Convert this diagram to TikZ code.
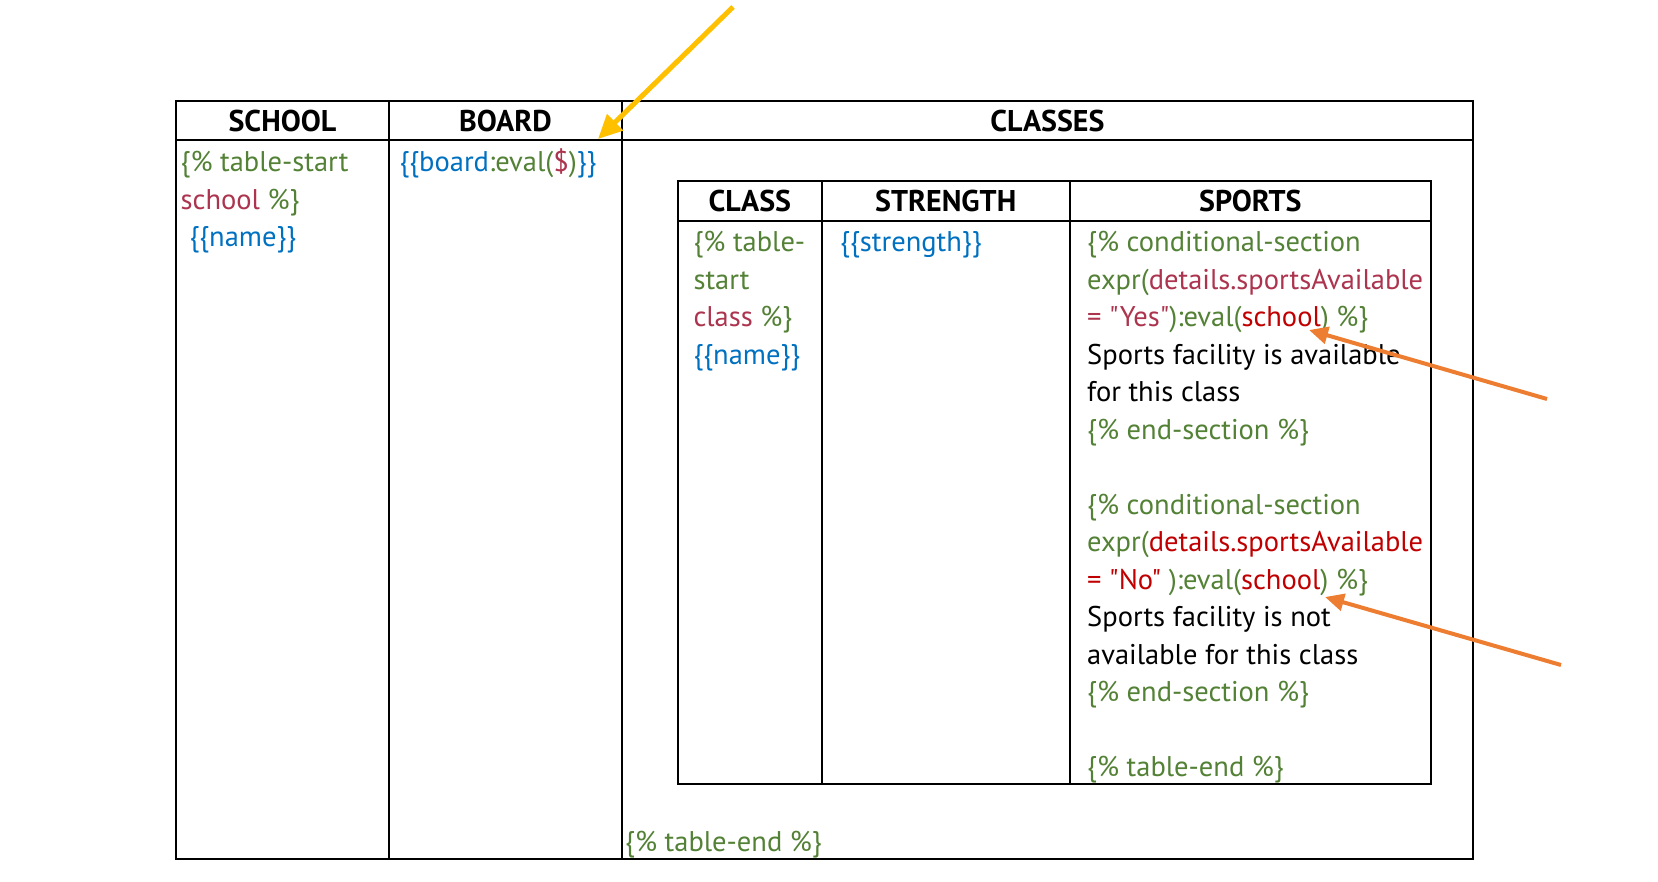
\documentclass[tikz,border=0pt]{standalone}
\usepackage{fontspec}
\setmainfont{PT Sans}[Ligatures=TeXOff]
\usetikzlibrary{arrows.meta}
\definecolor{cgreen}{RGB}{83,129,53}
\definecolor{ccrim}{RGB}{172,52,78}
\definecolor{cred}{RGB}{192,0,0}
\definecolor{cblue}{RGB}{0,112,192}
\definecolor{cyel}{RGB}{255,192,0}
\definecolor{corange}{RGB}{237,125,49}
\newcommand{\G}[1]{\textcolor{cgreen}{#1}}
\newcommand{\Cr}[1]{\textcolor{ccrim}{#1}}
\newcommand{\R}[1]{\textcolor{cred}{#1}}
\newcommand{\B}[1]{\textcolor{cblue}{#1}}
\newcommand{\dq}{\symbol{34}}
\begin{document}
\begin{tikzpicture}[x=1pt,y=-1pt,
  grid/.style={line width=2pt, black},
  hdr/.style={anchor=base, inner sep=0pt, font=\fontsize{30}{34}\selectfont\bfseries},
  txt/.style={anchor=base west, inner sep=0pt, font=\fontsize{28.5}{34}\selectfont},
  yarrow/.style={draw=cyel, line width=5pt, -{Triangle[length=24pt,width=22pt]}},
  oarrow/.style={draw=corange, line width=4pt, -{Triangle[length=19pt,width=17pt]}}]
\useasboundingbox (0,0) rectangle (1658,882);
% outer table
\draw[grid] (176,101) rectangle (1473,858.5);
\draw[grid] (176,140.5) -- (1473,140.5);
\draw[grid] (389,101) -- (389,858.5);
\draw[grid] (622,101) -- (622,858.5);
% inner table
\draw[grid] (678,180.6) rectangle (1431,783.5);
\draw[grid] (678,220.7) -- (1431,220.7);
\draw[grid] (821.6,180.6) -- (821.6,783.5);
\draw[grid] (1069.7,180.6) -- (1069.7,783.5);
% outer headers
\node[hdr] (hschool) at (282.5,131.7) {SCHOOL};
\node[hdr] (hboard) at (505.5,131.7) {BOARD};
\node[hdr] (hclasses) at (1047.5,131.7) {CLASSES};
% inner headers
\node[hdr] (hclass) at (749.8,211.7) {CLASS};
\node[hdr] (hstrength) at (945.7,211.7) {STRENGTH};
\node[hdr] (hsports) at (1250.3,211.7) {SPORTS};
% school column
\node[txt] (s1) at (180.5,171.7) {\G{\{\% table-start}};
\node[txt] (s2) at (180.5,209.2) {\Cr{school} \G{\%\}}};
\node[txt] (s3) at (189.3,246.7) {\B{\{\{name\}\}}};
% board column
\node[txt] (b1) at (399.3,171.7) {\B{\{\{board}\G{:eval(}\Cr{\$}\G{)}\B{\}\}}};
% class column
\node[txt] (c1) at (693.3,251.7) {\G{\{\% table-}};
\node[txt] (c2) at (693.3,289.2) {\G{start}};
\node[txt] (c3) at (693.3,326.7) {\Cr{class} \G{\%\}}};
\node[txt] (c4) at (693.3,364.2) {\B{\{\{name\}\}}};
% strength column
\node[txt] (st1) at (840,251.7) {\B{\{\{strength\}\}}};
% sports column
\node[txt] (p1) at (1087,251.7) {\G{\{\% conditional-section}};
\node[txt] (p2) at (1087,289.2) {\G{expr(}\Cr{details.sportsAvailable}};
\node[txt] (p3) at (1087,326.7) {\Cr{= \dq Yes\dq}\G{):eval(}\R{school}\G{) \%\}}};
\node[txt] (p4) at (1087,364.2) {Sports facility is available};
\node[txt] (p5) at (1087,401.7) {for this class};
\node[txt] (p6) at (1087,439.2) {\G{\{\% end-section \%\}}};
\node[txt] (q1) at (1087,514.2) {\G{\{\% conditional-section}};
\node[txt] (q2) at (1087,551.7) {\G{expr(}\R{details.sportsAvailable}};
\node[txt] (q3) at (1087,589.2) {\R{= \dq No\dq} \G{):eval(}\R{school}\G{) \%\}}};
\node[txt] (q4) at (1087,626.7) {Sports facility is not};
\node[txt] (q5) at (1087,664.2) {available for this class};
\node[txt] (q6) at (1087,701.7) {\G{\{\% end-section \%\}}};
\node[txt] (q7) at (1087,776.7) {\G{\{\% table-end \%\}}};
% outer table end
\node[txt] (oend) at (625,851.6) {\G{\{\% table-end \%\}}};
% arrows
\coordinate (yt) at (733,7);
\coordinate (yh) at (598,139);
\draw[yarrow] (yt) -- (yh);
\coordinate (o1t) at (1547,399);
\coordinate (o1h) at (1309,330);
\draw[oarrow] (o1t) -- (o1h);
\coordinate (o2t) at (1561,665);
\coordinate (o2h) at (1325,597);
\draw[oarrow] (o2t) -- (o2h);
\end{tikzpicture}
\end{document}
